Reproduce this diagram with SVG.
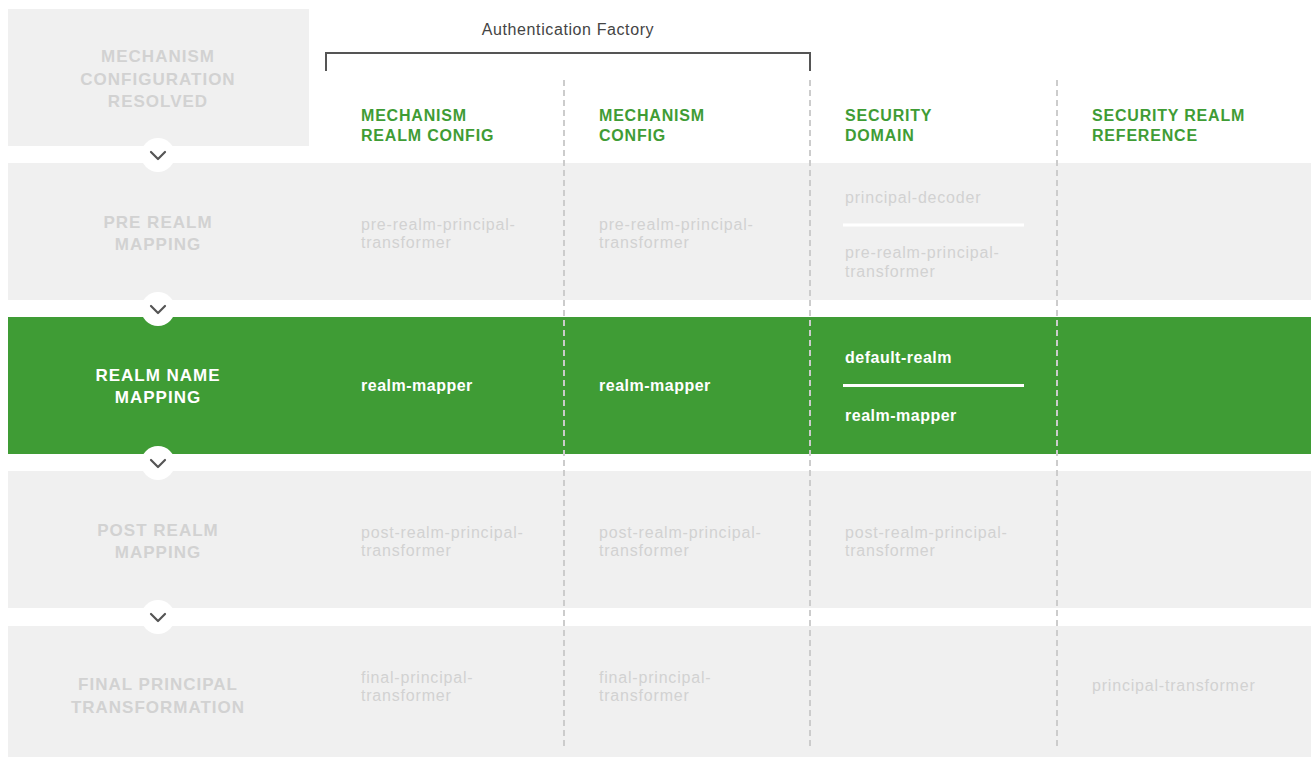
<svg xmlns="http://www.w3.org/2000/svg" width="1311" height="757" viewBox="0 0 1311 757">
<style>
.bg{fill:#f0f0f0}
.gr{fill:#3f9c35}
.lbl{font-family:"Liberation Sans",Arial,sans-serif;font-weight:bold;font-size:17px;letter-spacing:1px;text-anchor:middle;fill:#d2d2d2}
.lblw{fill:#ffffff}
.hd{font-family:"Liberation Sans",Arial,sans-serif;font-weight:bold;font-size:16px;letter-spacing:0.8px;fill:#3f9c35}
.cell{font-family:"Liberation Sans",Arial,sans-serif;font-size:16px;letter-spacing:0.8px;fill:#d2d2d2}
.cellw{font-weight:bold;fill:#ffffff;letter-spacing:0.5px}
.dash{stroke:#cccccc;stroke-width:2;stroke-dasharray:6 4;fill:none}
.sep{stroke:#ffffff;stroke-width:3}
.circ{fill:#ffffff}
.chev{fill:none;stroke:#555555;stroke-width:2.2;stroke-linecap:round;stroke-linejoin:round}
.title{font-family:"Liberation Sans",Arial,sans-serif;font-size:16px;letter-spacing:0.6px;fill:#444444;text-anchor:middle}
</style>
<rect width="1311" height="757" fill="#ffffff"/>

<g id="stage-mechanism-configuration">
<rect class="bg" x="8" y="9" width="301" height="137"/>
<text class="lbl" x="158" y="62">MECHANISM</text>
<text class="lbl" x="158" y="84.5">CONFIGURATION</text>
<text class="lbl" x="158" y="107">RESOLVED</text>
</g>

<g id="stage-pre-realm">
<rect class="bg" x="8" y="163" width="1303" height="137"/>
<text class="lbl" x="158" y="228">PRE REALM</text>
<text class="lbl" x="158" y="250">MAPPING</text>
</g>

<g id="stage-realm-name">
<rect class="gr" x="8" y="317" width="1303" height="137"/>
<text class="lbl lblw" x="158" y="381">REALM NAME</text>
<text class="lbl lblw" x="158" y="403">MAPPING</text>
</g>

<g id="stage-post-realm">
<rect class="bg" x="8" y="471" width="1303" height="137"/>
<text class="lbl" x="158" y="536">POST REALM</text>
<text class="lbl" x="158" y="558">MAPPING</text>
</g>

<g id="stage-final">
<rect class="bg" x="8" y="626" width="1303" height="131"/>
<text class="lbl" x="158" y="689.5">FINAL PRINCIPAL</text>
<text class="lbl" x="158" y="712.5">TRANSFORMATION</text>
</g>

<g id="connectors">
<line class="dash" x1="564" y1="80" x2="564" y2="746"/>
<line class="dash" x1="810" y1="80" x2="810" y2="746"/>
<line class="dash" x1="1057" y1="80" x2="1057" y2="746"/>
<circle class="circ" cx="158" cy="155" r="17"/>
<polyline class="chev" points="151,152 158,159 165,152"/>
<circle class="circ" cx="158" cy="309" r="17"/>
<polyline class="chev" points="151,306 158,313 165,306"/>
<circle class="circ" cx="158" cy="463" r="17"/>
<polyline class="chev" points="151,460 158,467 165,460"/>
<circle class="circ" cx="158" cy="617" r="17"/>
<polyline class="chev" points="151,614 158,621 165,614"/>
</g>

<g id="authentication-factory">
<text class="title" x="568" y="35">Authentication Factory</text>
<polyline points="326,71 326,53 810,53 810,71" fill="none" stroke="#555555" stroke-width="2"/>
</g>

<g id="col-mechanism-realm-config">
<text class="hd" x="361" y="120.5">MECHANISM</text>
<text class="hd" x="361" y="140.5">REALM CONFIG</text>
<text class="cell" x="361" y="230">pre-realm-principal-</text>
<text class="cell" x="361" y="248">transformer</text>
<text class="cell cellw" x="361" y="391">realm-mapper</text>
<text class="cell" x="361" y="538">post-realm-principal-</text>
<text class="cell" x="361" y="556">transformer</text>
<text class="cell" x="361" y="683">final-principal-</text>
<text class="cell" x="361" y="701">transformer</text>
</g>

<g id="col-mechanism-config">
<text class="hd" x="599" y="120.5">MECHANISM</text>
<text class="hd" x="599" y="140.5">CONFIG</text>
<text class="cell" x="599" y="230">pre-realm-principal-</text>
<text class="cell" x="599" y="248">transformer</text>
<text class="cell cellw" x="599" y="391">realm-mapper</text>
<text class="cell" x="599" y="538">post-realm-principal-</text>
<text class="cell" x="599" y="556">transformer</text>
<text class="cell" x="599" y="683">final-principal-</text>
<text class="cell" x="599" y="701">transformer</text>
</g>

<g id="col-security-domain">
<text class="hd" x="845" y="120.5">SECURITY</text>
<text class="hd" x="845" y="140.5">DOMAIN</text>
<text class="cell" x="845" y="203">principal-decoder</text>
<line class="sep" x1="843" y1="225" x2="1024" y2="225"/>
<text class="cell" x="845" y="258">pre-realm-principal-</text>
<text class="cell" x="845" y="276.5">transformer</text>
<text class="cell cellw" x="845" y="362.5">default-realm</text>
<line class="sep" x1="843" y1="385.5" x2="1024" y2="385.5"/>
<text class="cell cellw" x="845" y="420.5">realm-mapper</text>
<text class="cell" x="845" y="538">post-realm-principal-</text>
<text class="cell" x="845" y="556">transformer</text>
</g>

<g id="col-security-realm-reference">
<text class="hd" x="1092" y="120.5">SECURITY REALM</text>
<text class="hd" x="1092" y="140.5">REFERENCE</text>
<text class="cell" x="1092" y="691">principal-transformer</text>
</g>
</svg>
